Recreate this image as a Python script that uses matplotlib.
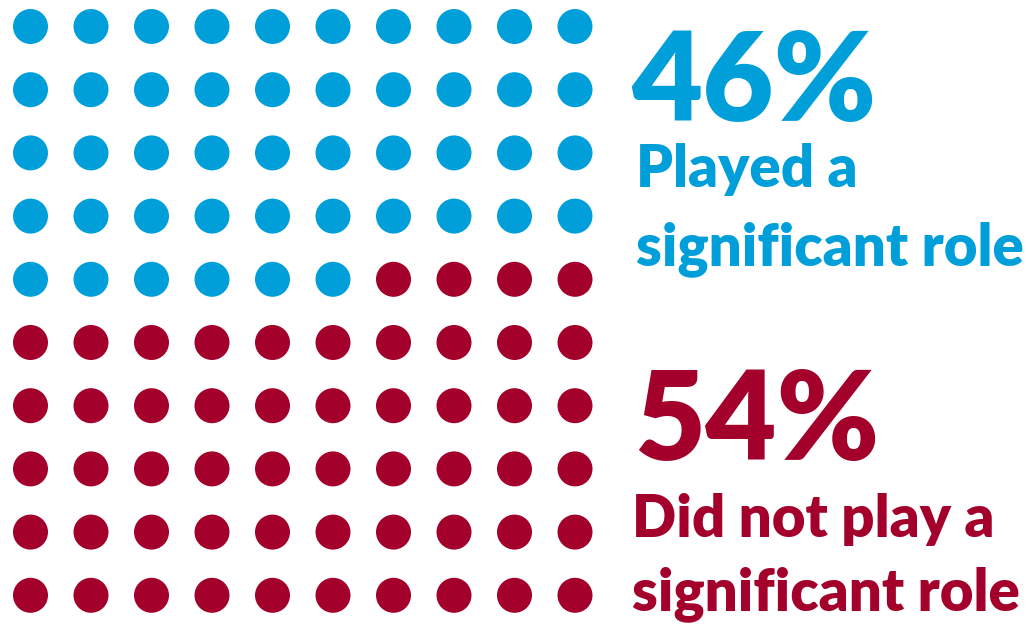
import matplotlib
matplotlib.use("Agg")
import matplotlib.pyplot as plt

# ---- data ----
categories = ["Played a\nsignificant role", "Did not play a\nsignificant role"]
counts = [46, 54]
percent_labels = ["46%", "54%"]
colors = ["#009FDA", "#A3002B"]

n_cols, n_rows = 10, 10

W, H = 1028, 626
fig = plt.figure(figsize=(W / 100, H / 100), dpi=100)
ax = fig.add_axes([0, 0, 1, 1])
ax.set_xlim(0, W)
ax.set_ylim(H, 0)
ax.axis("off")

# ---- waffle dots ----
x0, dx = 30.5, 60.5
y0, dy = 26.5, 63.2
xs, ys, cs = [], [], []
idx = 0
for cat_i, c in enumerate(counts):
    for _ in range(c):
        r, col = divmod(idx, n_cols)
        xs.append(x0 + dx * col)
        ys.append(y0 + dy * r)
        cs.append(colors[cat_i])
        idx += 1
d_pt = 35 * 72 / 100
ax.scatter(xs, ys, s=d_pt ** 2, c=cs, linewidths=0)

# ---- text ----
font = "Lato"
renderer = fig.canvas.get_renderer()

def fit_size(txt, target_w, weight, base=40):
    t = ax.text(0, 0, txt, fontsize=base, fontfamily=font, fontweight=weight)
    w = t.get_window_extent(renderer).width
    t.remove()
    return base * target_w / w

big_w = "heavy"
small_w = "heavy"
big_size = fit_size("46%", 245, big_w)
small_size = fit_size("significant role", 388, small_w)

blocks = [
    # (pct x, pct baseline, line x, line baselines)
    (631, 121, 636, [187, 265]),
    (634, 460, 632, [537, 610]),
]
for i, (px, pb, lx, lbs) in enumerate(blocks):
    ax.text(px, pb, percent_labels[i], fontsize=big_size, fontfamily=font,
            fontweight=big_w, color=colors[i], va="baseline", ha="left")
    for line, lb in zip(categories[i].split("\n"), lbs):
        ax.text(lx, lb, line, fontsize=small_size, fontfamily=font,
                fontweight=small_w, color=colors[i], va="baseline", ha="left")

fig.savefig("out.png", dpi=100)
